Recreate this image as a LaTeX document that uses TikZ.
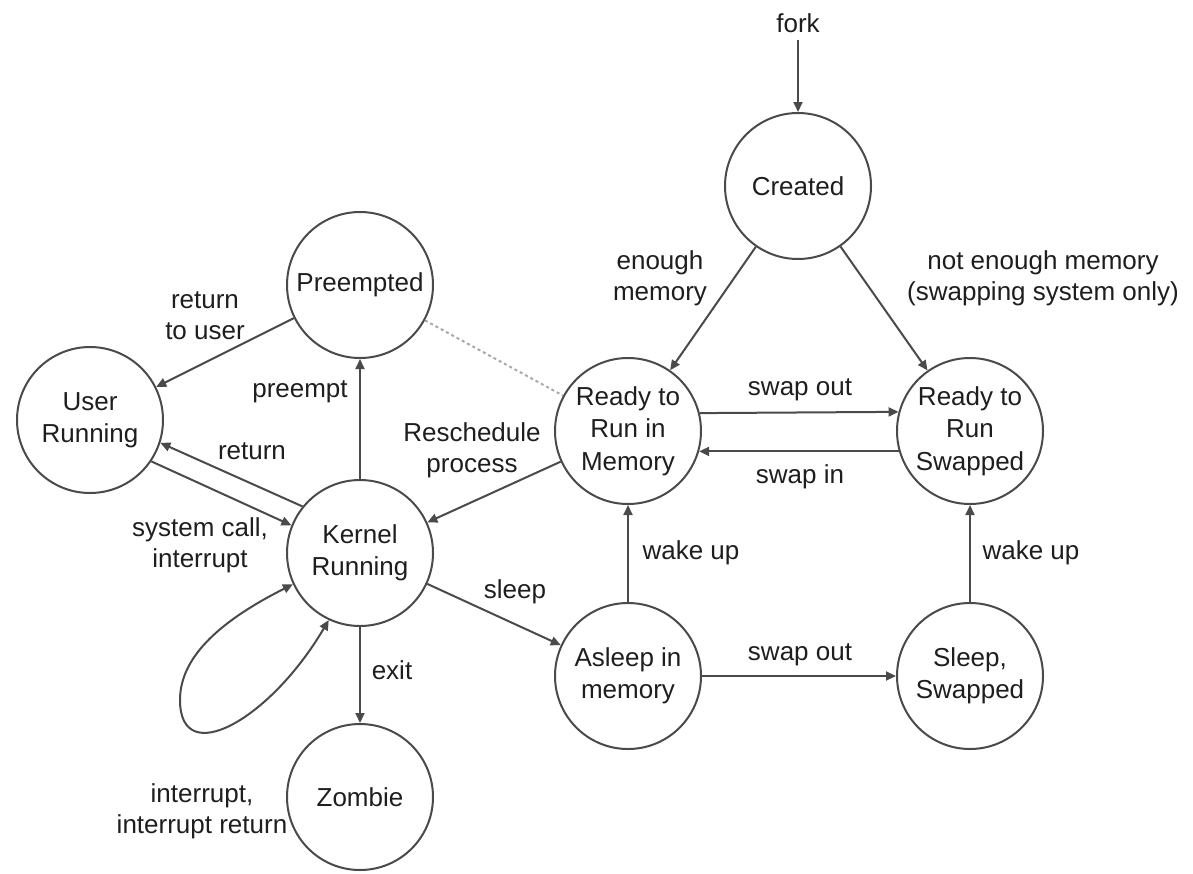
\documentclass[tikz,border=0pt]{standalone}
\usepackage{fontspec}
\setmainfont{Liberation Sans}
\usetikzlibrary{arrows.meta}
\definecolor{edgegray}{HTML}{4A4A4A}
\definecolor{ink}{HTML}{1E1E1E}
\definecolor{faint}{HTML}{A8A8A8}
\begin{document}
\begin{tikzpicture}[x=1pt,y=-1pt,
  state/.style={circle,draw=edgegray,line width=2pt,minimum size=146pt,
    inner sep=0pt,align=center,text=ink,font=\fontsize{26}{32.5}\selectfont},
  lbl/.style={align=center,text=ink,font=\fontsize{26}{31}\selectfont,inner sep=1pt},
  arr/.style={draw=edgegray,line width=2pt,-{Triangle[length=10pt,width=9pt]}},
  biarr/.style={draw=edgegray,line width=2pt,
    {Triangle[length=10pt,width=9pt]}-{Triangle[length=10pt,width=9pt]}},
  link/.style={draw=faint,line width=2pt,dash pattern=on 3pt off 3pt},
]
\useasboundingbox (0,0) rectangle (1193,873);

% process states
\node[state] (created)   at (798,186) {Created};
\node[state] (preempted) at (360,285) {Preempted};
\node[state] (user)      at (90,420)  {User\\Running};
\node[state] (rrm)       at (628,431) {Ready to\\Run in\\Memory};
\node[state] (rrs)       at (970,431) {Ready to\\Run\\Swapped};
\node[state] (kernel)    at (360,553) {Kernel\\Running};
\node[state] (asleep)    at (628,676) {Asleep in\\memory};
\node[state] (sleepsw)   at (970,676) {Sleep,\\Swapped};
\node[state] (zombie)    at (360,797) {Zombie};

% entry point
\node[lbl] (fork) at (798,23) {fork};
\draw[arr,shorten <=6pt] (fork) -- (created);

% transitions
\draw[arr] (created) -- (rrm);
\draw[arr] (created) -- (rrs);
\draw[arr] (preempted) -- (user);
\draw[arr] (kernel) -- (preempted);
\draw[arr] (kernel.141) -- (user.-18);
\draw[arr] (user.-34) -- (kernel.158);
\draw[arr] (rrm) -- (kernel);
\draw[link] (preempted) -- (rrm);
\draw[arr] (rrm.14.3) -- (rrs.165.7);
\draw[arr] (rrs.196.7) -- (rrm.-16.7);
\draw[arr] (asleep) -- (rrm);
\draw[arr] (sleepsw) -- (rrs);
\draw[arr] (kernel) -- (asleep);
\draw[arr] (asleep) -- (sleepsw);
\draw[arr] (kernel) -- (zombie);
\draw[biarr] (kernel.205) .. controls (224,619) and (180,655) .. (180,700)
  .. controls (180,770) and (270,720) .. (kernel.245);

% transition labels
\node[lbl] (lenough)    at (660,278)  {enough\\memory};
\node[lbl] (lnotenough) at (1043,278) {not enough memory\\(swapping system only)};
\node[lbl] (lretuser)   at (205,316)  {return\\to user};
\node[lbl] (lpreempt)   at (300,392)  {preempt};
\node[lbl] (lreturn)    at (252,451)  {return};
\node[lbl] (lsyscall)   at (200,545)  {system call,\\interrupt};
\node[lbl] (lresched)   at (472,450)  {Reschedule\\process};
\node[lbl] (lswapout)   at (800,390)  {swap out};
\node[lbl] (lswapin)    at (800,477)  {swap in};
\node[lbl] (lwakemem)   at (691,553)  {wake up};
\node[lbl] (lwakeswp)   at (1031,553) {wake up};
\node[lbl] (lsleep)     at (515,592)  {sleep};
\node[lbl] (lswapout2)  at (800,655)  {swap out};
\node[lbl] (lexit)      at (392,670)  {exit};
\node[lbl] (lintr)      at (202,811)  {interrupt,\\interrupt return};
\end{tikzpicture}
\end{document}
